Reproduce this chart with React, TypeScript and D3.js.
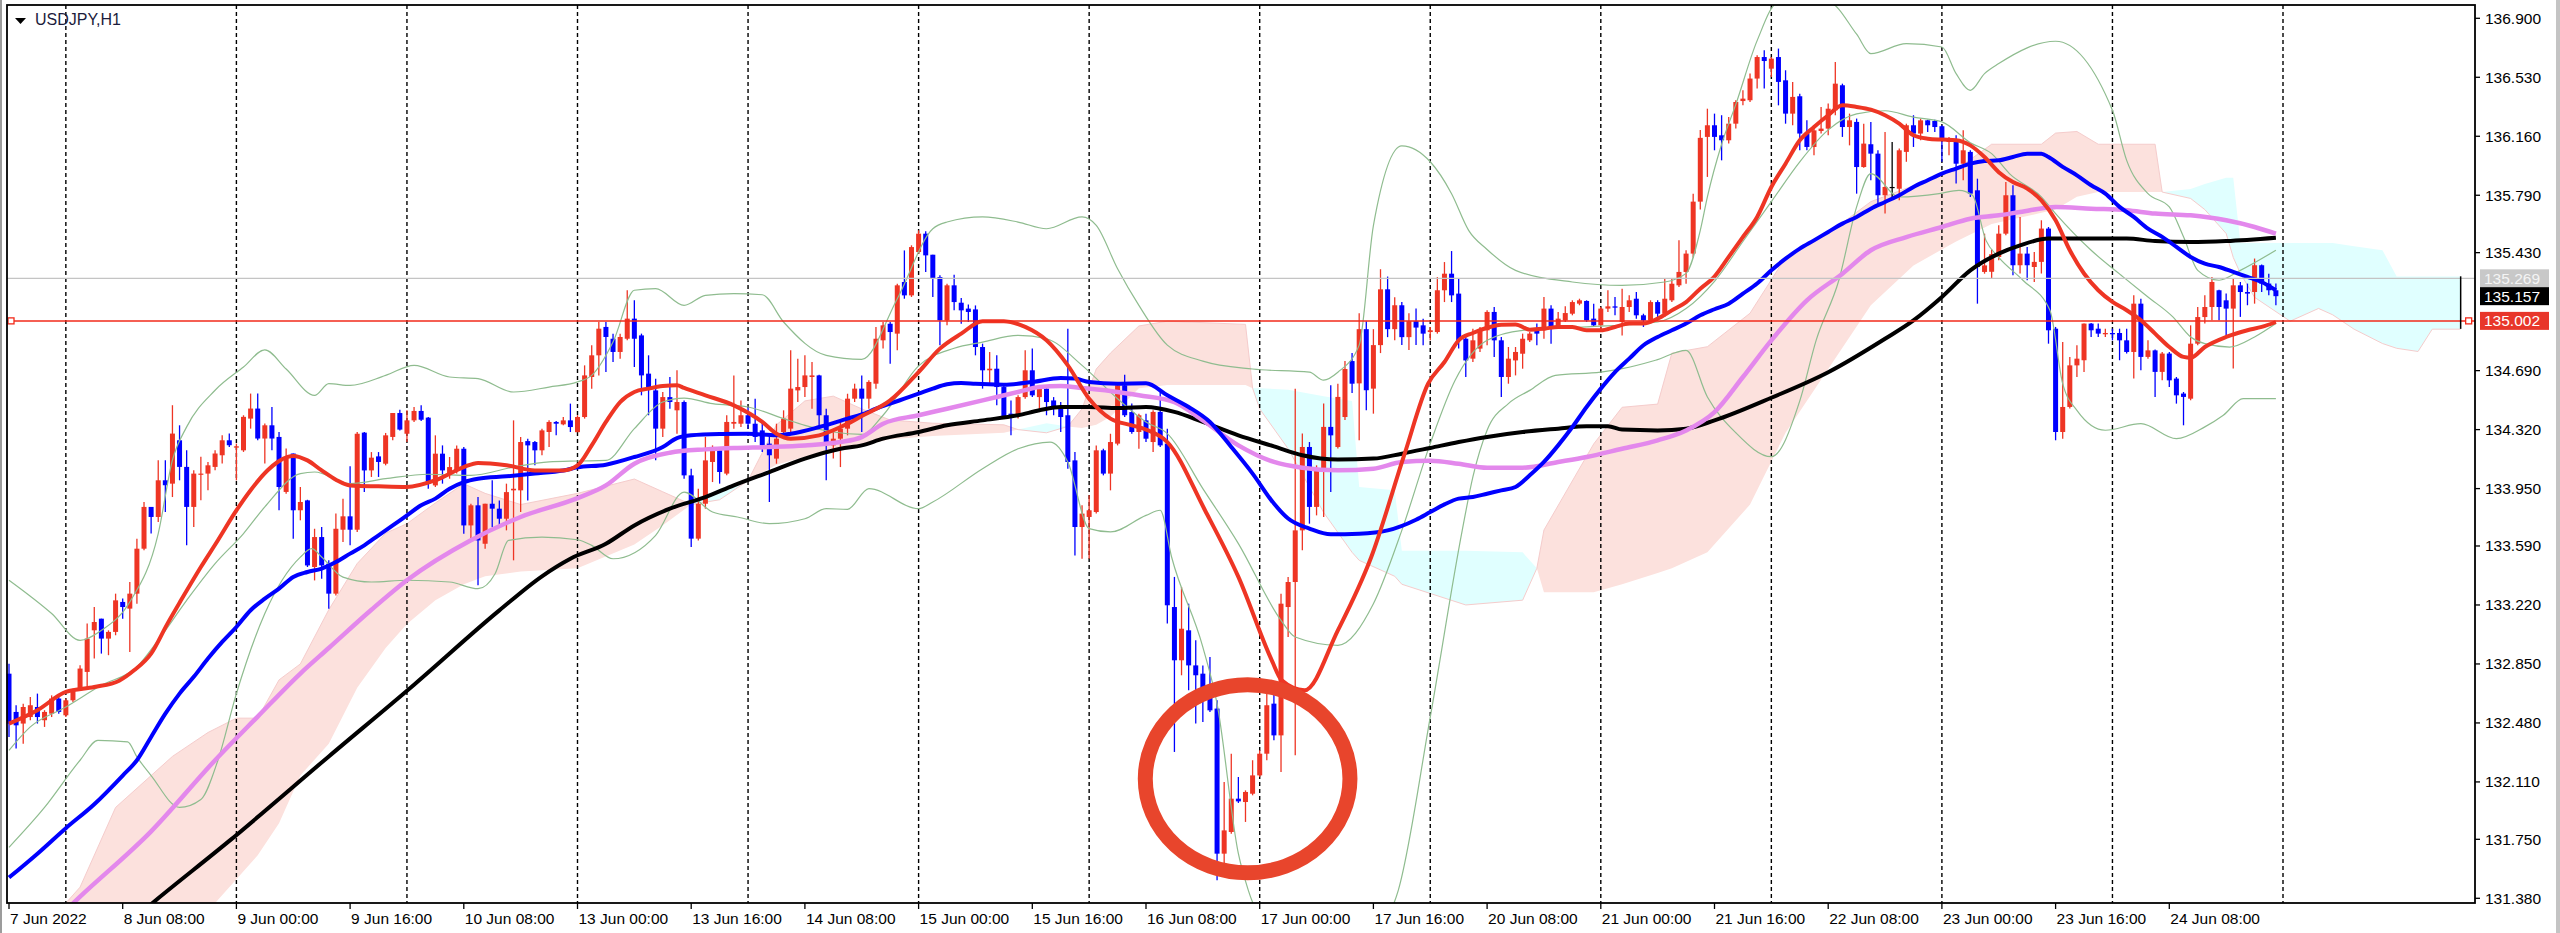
import * as React from 'react';
import * as d3 from 'd3';

// USDJPY H1, 7 Jun 16:00 .. 24 Jun 23:00 (320 bars)

const title = 'USDJPY,H1';

const priceTicks = [136.9, 136.53, 136.16, 135.79, 135.43, 134.69, 134.32, 133.95, 133.59, 133.22, 132.85, 132.48, 132.11, 131.75, 131.38];

const timeLabels = ['7 Jun 2022', '8 Jun 08:00', '9 Jun 00:00', '9 Jun 16:00', '10 Jun 08:00', '13 Jun 00:00', '13 Jun 16:00',
    '14 Jun 08:00', '15 Jun 00:00', '15 Jun 16:00', '16 Jun 08:00', '17 Jun 00:00', '17 Jun 16:00', '20 Jun 08:00',
    '21 Jun 00:00', '21 Jun 16:00', '22 Jun 08:00', '23 Jun 00:00', '23 Jun 16:00', '24 Jun 08:00'];
const barsPerLabel = 16;

// bar index of every 00:00 (period separators)
const dayStarts = [8, 32, 56, 80, 104, 128, 152, 176, 200, 224, 248, 272, 296, 320];

// [open, high, low, close]
const candles: number[][] = [
    // 7 Jun 16:00
    [132.789, 132.852, 132.392, 132.476], [132.549, 132.591, 132.319, 132.465], [132.476, 132.601, 132.350, 132.580], [132.517, 132.643, 132.497, 132.591],
    [132.580, 132.664, 132.476, 132.517], [132.497, 132.560, 132.455, 132.549], [132.538, 132.653, 132.517, 132.633], [132.633, 132.643, 132.538, 132.549],
    // 8 Jun
    [132.528, 132.633, 132.517, 132.622], [132.622, 132.695, 132.612, 132.685], [132.685, 132.842, 132.685, 132.821], [132.800, 133.103, 132.706, 133.009],
    [133.061, 133.207, 132.884, 133.113], [133.134, 133.134, 132.915, 133.009], [133.009, 133.061, 132.905, 133.051], [133.051, 133.291, 133.030, 133.249],
    [133.239, 133.260, 133.134, 133.207], [133.197, 133.364, 132.925, 133.291], [133.291, 133.636, 133.228, 133.573], [133.573, 133.866, 133.563, 133.835],
    [133.835, 133.835, 133.668, 133.772], [133.772, 134.128, 133.741, 134.002], [134.002, 134.128, 133.803, 133.971], [133.981, 134.473, 133.897, 134.295],
    [134.253, 134.347, 134.002, 134.086], [134.086, 134.190, 133.594, 133.835], [133.835, 134.065, 133.709, 134.044], [134.040, 134.149, 133.877, 134.044],
    [134.044, 134.117, 133.939, 134.096], [134.086, 134.190, 134.065, 134.170], [134.159, 134.284, 134.107, 134.253], [134.253, 134.295, 134.211, 134.222],
    // 9 Jun
    [134.207, 134.232, 134.002, 134.215], [134.190, 134.410, 134.180, 134.400], [134.389, 134.546, 134.326, 134.452], [134.452, 134.546, 134.253, 134.264],
    [134.264, 134.358, 134.107, 134.347], [134.347, 134.462, 134.190, 134.264], [134.274, 134.305, 133.814, 133.960], [133.929, 134.201, 133.918, 134.149],
    [134.170, 134.170, 133.636, 133.814], [133.814, 133.960, 133.751, 133.866], [133.876, 133.880, 133.458, 133.468], [133.458, 133.698, 133.374, 133.646],
    [133.646, 133.709, 133.385, 133.468], [133.479, 133.500, 133.197, 133.291], [133.291, 133.793, 133.280, 133.698], [133.692, 133.887, 133.615, 133.776],
    [133.776, 134.090, 133.594, 133.692], [133.692, 134.305, 133.678, 134.294], [134.301, 134.305, 133.928, 134.064], [134.064, 134.179, 134.023, 134.144],
    [134.152, 134.179, 134.023, 134.117], [134.106, 134.299, 134.096, 134.284], [134.274, 134.424, 134.253, 134.424], [134.424, 134.445, 134.315, 134.320],
    // 10 Jun
    [134.294, 134.441, 134.242, 134.378], [134.378, 134.462, 134.368, 134.437], [134.437, 134.472, 134.374, 134.382], [134.395, 134.399, 133.949, 133.981],
    [133.970, 134.284, 133.960, 134.169], [134.169, 134.221, 133.981, 134.064], [134.044, 134.148, 134.012, 134.085], [134.064, 134.221, 134.044, 134.200],
    [134.200, 134.211, 133.667, 133.719], [133.719, 133.855, 133.625, 133.845], [133.845, 133.897, 133.343, 133.625], [133.604, 133.855, 133.573, 133.855],
    [133.855, 134.002, 133.709, 133.824], [133.824, 133.876, 133.709, 133.761], [133.761, 133.981, 133.688, 133.928], [133.939, 134.378, 133.500, 133.949],
    [133.939, 134.274, 133.803, 134.242], [134.248, 134.263, 133.876, 134.221], [134.242, 134.248, 134.096, 134.190], [134.190, 134.326, 134.159, 134.315],
    [134.305, 134.378, 134.211, 134.368], [134.368, 134.374, 134.284, 134.357], [134.353, 134.399, 134.347, 134.378], [134.378, 134.483, 134.305, 134.336],
    // 13 Jun
    [134.304, 134.410, 134.304, 134.399], [134.399, 134.723, 134.389, 134.660], [134.650, 134.849, 134.577, 134.786], [134.786, 134.995, 134.660, 134.953],
    [134.964, 134.995, 134.681, 134.901], [134.890, 134.922, 134.744, 134.807], [134.807, 134.922, 134.765, 134.901], [134.890, 135.194, 134.880, 135.016],
    [135.016, 135.131, 134.713, 134.890], [134.911, 134.922, 134.535, 134.660], [134.671, 134.786, 134.410, 134.577], [134.566, 134.639, 134.127, 134.326],
    [134.326, 134.556, 134.274, 134.524], [134.524, 134.650, 134.451, 134.493], [134.441, 134.692, 134.294, 134.493], [134.493, 134.503, 134.012, 134.033],
    [134.033, 134.075, 133.584, 133.636], [133.636, 133.949, 133.625, 133.855], [133.855, 134.274, 133.824, 134.127], [134.117, 134.221, 133.991, 134.190],
    [134.190, 134.200, 133.981, 134.054], [134.044, 134.410, 134.033, 134.368], [134.357, 134.660, 134.326, 134.368], [134.357, 134.503, 134.336, 134.410],
    // 14 Jun
    [134.410, 134.462, 134.326, 134.357], [134.357, 134.514, 134.242, 134.274], [134.315, 134.368, 134.180, 134.221], [134.232, 134.284, 133.866, 134.159],
    [134.138, 134.357, 134.106, 134.263], [134.305, 134.441, 134.274, 134.389], [134.326, 134.817, 134.305, 134.577], [134.566, 134.765, 134.493, 134.587],
    [134.587, 134.786, 134.524, 134.660], [134.650, 134.744, 134.451, 134.660], [134.660, 134.664, 134.347, 134.410], [134.410, 134.451, 134.002, 134.242],
    [134.221, 134.305, 134.138, 134.263], [134.263, 134.368, 134.085, 134.326], [134.326, 134.545, 134.284, 134.514], [134.514, 134.608, 134.493, 134.577],
    [134.577, 134.660, 134.305, 134.514], [134.514, 134.629, 134.451, 134.619], [134.608, 134.964, 134.577, 134.890], [134.880, 134.995, 134.828, 134.974],
    [134.984, 134.995, 134.733, 134.932], [134.922, 135.235, 134.817, 135.225], [135.246, 135.444, 135.141, 135.162], [135.162, 135.476, 135.152, 135.465],
    // 15 Jun
    [135.434, 135.570, 135.424, 135.549], [135.549, 135.564, 135.309, 135.413], [135.417, 135.417, 135.152, 135.267], [135.277, 135.288, 134.849, 135.005],
    [135.005, 135.235, 134.974, 135.225], [135.225, 135.292, 135.068, 135.120], [135.116, 135.145, 134.984, 135.068], [135.079, 135.104, 134.995, 135.058],
    [135.074, 135.099, 134.786, 134.838], [134.838, 134.859, 134.577, 134.692], [134.692, 134.807, 134.598, 134.702], [134.702, 134.786, 134.472, 134.587],
    [134.587, 134.608, 134.389, 134.399], [134.420, 134.503, 134.284, 134.399], [134.410, 134.535, 134.389, 134.524], [134.524, 134.817, 134.514, 134.692],
    [134.692, 134.828, 134.524, 134.535], [134.524, 134.598, 134.430, 134.577], [134.577, 134.598, 134.410, 134.493], [134.503, 134.524, 134.410, 134.451],
    [134.462, 134.493, 134.305, 134.399], [134.410, 134.953, 134.075, 134.117], [134.127, 134.179, 133.531, 133.709], [133.709, 133.845, 133.510, 133.793],
    // 16 Jun
    [133.772, 133.908, 133.510, 133.814], [133.803, 134.221, 133.793, 134.190], [134.190, 134.200, 134.033, 134.044], [134.044, 134.294, 133.939, 134.242],
    [134.232, 134.608, 134.221, 134.598], [134.598, 134.664, 134.399, 134.410], [134.430, 134.483, 134.294, 134.305], [134.305, 134.420, 134.200, 134.410],
    [134.378, 134.420, 134.242, 134.263], [134.242, 134.441, 134.180, 134.431], [134.431, 134.567, 134.211, 134.221], [134.232, 134.326, 133.103, 133.218],
    [133.207, 133.396, 132.298, 132.873], [132.873, 133.333, 132.779, 133.071], [133.061, 133.228, 132.685, 132.841], [132.841, 132.998, 132.476, 132.779],
    [132.789, 132.841, 132.486, 132.622], [132.653, 132.894, 132.549, 132.559], [132.570, 132.622, 131.493, 131.660], [131.660, 132.110, 131.576, 131.806],
    [131.796, 132.287, 131.785, 132.005], [132.005, 132.141, 131.978, 131.988], [131.984, 132.057, 131.859, 132.047], [132.036, 132.246, 132.026, 132.151],
    // 17 Jun
    [132.151, 132.308, 132.141, 132.287], [132.287, 132.674, 132.246, 132.591], [132.601, 132.674, 132.371, 132.402], [132.402, 133.291, 132.172, 133.228],
    [133.207, 133.396, 133.019, 133.364], [133.364, 134.577, 132.277, 133.688], [133.688, 134.295, 133.563, 134.211], [134.211, 134.242, 133.730, 133.835],
    [133.835, 134.096, 133.782, 134.065], [134.065, 134.483, 133.772, 134.337], [134.337, 134.598, 133.929, 134.284], [134.211, 134.608, 134.201, 134.525],
    [134.399, 134.750, 134.380, 134.700], [134.750, 134.800, 134.550, 134.608], [134.610, 135.050, 134.253, 134.950], [134.950, 135.000, 134.441, 134.567],
    [134.577, 134.950, 134.420, 134.850], [134.850, 135.326, 134.800, 135.200], [135.200, 135.280, 134.900, 134.950], [134.950, 135.150, 134.880, 135.100],
    [135.100, 135.120, 134.850, 134.900], [134.900, 135.050, 134.820, 135.000], [135.000, 135.080, 134.850, 134.960], [134.974, 135.016, 134.849, 134.922],
    // 20 Jun
    [134.932, 134.964, 134.880, 134.943], [134.932, 135.277, 134.922, 135.194], [135.194, 135.371, 135.120, 135.298], [135.298, 135.440, 135.120, 135.162],
    [135.173, 135.267, 134.828, 134.880], [134.890, 134.901, 134.650, 134.754], [134.765, 134.953, 134.744, 134.880], [134.828, 134.964, 134.807, 134.943],
    [134.943, 135.068, 134.849, 135.058], [135.058, 135.089, 134.775, 134.880], [134.880, 134.901, 134.525, 134.650], [134.650, 134.838, 134.608, 134.765],
    [134.754, 134.838, 134.660, 134.807], [134.796, 134.922, 134.702, 134.890], [134.880, 134.932, 134.870, 134.922], [134.943, 134.985, 134.849, 134.922],
    [134.943, 135.152, 134.890, 135.079], [135.079, 135.100, 134.859, 134.953], [134.964, 135.058, 134.953, 135.016], [135.005, 135.093, 134.995, 135.051],
    [135.047, 135.131, 135.037, 135.120], [135.110, 135.141, 135.100, 135.131], [135.127, 135.131, 134.995, 135.005], [135.016, 135.110, 134.964, 134.974],
    // 21 Jun
    [134.974, 135.089, 134.932, 135.079], [135.079, 135.194, 135.058, 135.093], [135.093, 135.152, 135.037, 135.085], [134.995, 135.204, 134.911, 135.089],
    [135.089, 135.162, 135.058, 135.131], [135.141, 135.183, 135.016, 135.037], [135.037, 135.047, 134.964, 135.005], [135.005, 135.131, 134.985, 135.120],
    [135.120, 135.131, 135.026, 135.047], [135.047, 135.267, 135.026, 135.141], [135.131, 135.267, 135.120, 135.235], [135.225, 135.507, 135.215, 135.309],
    [135.309, 135.445, 135.235, 135.424], [135.424, 135.800, 135.400, 135.750], [135.750, 136.200, 135.700, 136.150], [136.156, 136.333, 135.905, 136.229],
    [136.229, 136.302, 136.072, 136.156], [136.166, 136.292, 136.009, 136.135], [136.135, 136.281, 136.114, 136.239], [136.239, 136.386, 136.208, 136.375],
    [136.381, 136.448, 136.354, 136.396], [136.386, 136.553, 136.375, 136.522], [136.522, 136.668, 136.459, 136.657], [136.657, 136.699, 136.459, 136.632],
    // 22 Jun
    [136.584, 136.657, 136.532, 136.647], [136.657, 136.710, 136.354, 136.501], [136.511, 136.574, 136.239, 136.302], [136.302, 136.501, 136.229, 136.407],
    [136.411, 136.427, 136.072, 136.177], [136.177, 136.260, 136.072, 136.093], [136.093, 136.218, 136.041, 136.197], [136.193, 136.344, 136.177, 136.208],
    [136.208, 136.365, 136.166, 136.333], [136.323, 136.626, 136.292, 136.490], [136.480, 136.490, 136.156, 136.218], [136.218, 136.302, 136.103, 136.260],
    [136.250, 136.271, 135.800, 135.967], [135.967, 136.239, 135.963, 136.114], [136.110, 136.250, 135.884, 136.051], [136.051, 136.072, 135.727, 135.790],
    [135.790, 136.187, 135.675, 135.842], [135.842, 136.124, 135.769, 135.842], [135.831, 136.083, 135.758, 136.072], [136.062, 136.239, 136.000, 136.229],
    [136.229, 136.292, 136.093, 136.177], [136.177, 136.271, 136.135, 136.260], [136.260, 136.264, 136.187, 136.229], [136.256, 136.264, 136.187, 136.218],
    // 23 Jun
    [136.223, 136.229, 136.000, 136.135], [136.124, 136.156, 136.041, 136.135], [136.135, 136.166, 135.863, 135.988], [135.988, 136.197, 135.884, 136.072],
    [136.062, 136.072, 135.779, 135.800], [135.821, 135.894, 135.110, 135.340], [135.309, 135.549, 135.298, 135.350], [135.310, 135.450, 135.270, 135.420],
    [135.403, 135.602, 135.382, 135.549], [135.549, 135.873, 135.539, 135.790], [135.790, 135.853, 135.288, 135.351], [135.351, 135.654, 135.299, 135.424],
    [135.424, 135.466, 135.257, 135.351], [135.340, 135.434, 135.246, 135.372], [135.372, 135.633, 135.299, 135.581], [135.581, 135.591, 134.859, 134.943],
    [134.953, 134.964, 134.253, 134.305], [134.305, 134.870, 134.263, 134.462], [134.462, 134.776, 134.452, 134.723], [134.723, 134.849, 134.650, 134.765],
    [134.755, 134.985, 134.682, 134.985], [134.985, 134.989, 134.901, 134.943], [134.953, 134.985, 134.901, 134.922], [134.918, 134.953, 134.901, 134.926],
    // 24 Jun
    [134.926, 134.953, 134.880, 134.918], [134.926, 134.953, 134.755, 134.880], [134.880, 134.953, 134.797, 134.807], [134.807, 135.162, 134.640, 135.110],
    [135.110, 135.141, 134.692, 134.776], [134.776, 134.880, 134.765, 134.817], [134.817, 134.822, 134.525, 134.682], [134.682, 134.807, 134.629, 134.797],
    [134.797, 134.807, 134.587, 134.629], [134.640, 134.650, 134.483, 134.535], [134.546, 134.556, 134.347, 134.525], [134.514, 134.974, 134.504, 134.859],
    [134.859, 135.089, 134.849, 135.026], [135.026, 135.162, 134.985, 135.089], [135.089, 135.278, 135.006, 135.246], [135.194, 135.198, 135.006, 135.089],
    [135.131, 135.173, 134.912, 135.079], [135.079, 135.267, 134.703, 135.225], [135.225, 135.246, 135.027, 135.183], [135.183, 135.236, 135.100, 135.173],
    [135.183, 135.393, 135.110, 135.351], [135.351, 135.355, 135.183, 135.236], [135.236, 135.298, 135.162, 135.194], [135.194, 135.236, 135.100, 135.157],
];

// moving averages, [bar, price]
const maRed = [[0, 132.476], [4, 132.56], [8, 132.675], [12, 132.705], [15.5, 132.745], [17.6, 132.81], [20, 132.915], [22.3, 133.103], [24.2, 133.249],
    [27, 133.458], [29.4, 133.626], [31.7, 133.793], [34, 133.94], [36.4, 134.065], [37.8, 134.117], [39.2, 134.149], [40, 134.155], [42, 134.127],
    [44, 134.064], [46, 134.006], [48, 133.97], [52, 133.964], [56, 133.96], [60, 134.002], [64, 134.085], [66, 134.111], [70, 134.096], [74, 134.064],
    [78, 134.064], [80, 134.095], [82, 134.221], [84, 134.368], [86, 134.493], [88, 134.556], [90, 134.577], [92, 134.593], [94, 134.598], [95, 134.581],
    [98, 134.535], [102, 134.472], [106, 134.368], [108, 134.294], [110, 134.263], [114, 134.284], [118, 134.357], [120, 134.405], [124, 134.503],
    [128, 134.681], [131, 134.828], [134, 134.922], [137, 135.0], [140, 135.0], [143, 134.964], [146, 134.88], [149, 134.723], [152, 134.514],
    [155, 134.389], [158, 134.347], [160, 134.32], [163, 134.242], [168.3, 133.814], [173, 133.396], [177.7, 132.873], [179.1, 132.747], [182.3, 132.685],
    [187, 133.061], [191.7, 133.521], [196.4, 134.169], [199.7, 134.608], [202, 134.744], [204, 134.88], [206, 134.926], [208, 134.959], [210, 134.978],
    [212, 134.98], [214, 134.947], [216, 134.953], [218, 134.964], [220, 134.964], [222, 134.943], [224, 134.943], [226, 134.964], [228, 134.985],
    [230, 134.985], [232, 135.016], [234, 135.068], [236, 135.12], [238, 135.204], [240, 135.28], [242, 135.403], [244, 135.528], [246, 135.654],
    [248, 135.842], [250, 135.988], [252, 136.135], [254, 136.218], [256, 136.292], [258, 136.354], [260, 136.344], [262, 136.327], [264, 136.292],
    [266, 136.239], [268, 136.166], [270, 136.145], [272, 136.139], [274, 136.135], [276, 136.103], [278, 136.03], [280, 135.935], [282, 135.873],
    [284, 135.832], [286, 135.758], [288, 135.633], [290, 135.445], [292, 135.299], [294, 135.194], [296, 135.121], [298, 135.069], [300, 135.006],
    [302, 134.922], [304, 134.838], [306, 134.776], [307, 134.771], [309, 134.838], [312, 134.901], [315, 134.943], [317, 134.964], [319, 134.995]];

const maBlue = [[0, 131.51], [4, 131.66], [8, 131.82], [12, 131.97], [16, 132.15], [18, 132.246], [20, 132.392], [22, 132.538], [24, 132.664],
    [26, 132.769], [28, 132.884], [30, 132.988], [32, 133.082], [34, 133.187], [36, 133.26], [38, 133.323], [40, 133.396], [42, 133.427], [44, 133.448],
    [46, 133.489], [48, 133.542], [50, 133.594], [52, 133.657], [54, 133.719], [56, 133.782], [58, 133.845], [60, 133.887], [62, 133.949], [64, 133.991],
    [66, 134.012], [70, 134.027], [74, 134.044], [78, 134.064], [80, 134.083], [84, 134.1], [88, 134.148], [92, 134.211], [94, 134.267], [96, 134.284],
    [100, 134.292], [104, 134.294], [108, 134.284], [110, 134.294], [114, 134.336], [118, 134.389], [120, 134.415], [122, 134.451], [124, 134.483],
    [126, 134.514], [128, 134.545], [130, 134.577], [132, 134.604], [134, 134.612], [136, 134.608], [140, 134.602], [144, 134.619], [148, 134.644],
    [150, 134.64], [152, 134.619], [156, 134.608], [160, 134.61], [163, 134.535], [166, 134.462], [169, 134.368], [172, 134.211], [175, 134.044],
    [178, 133.856], [180, 133.762], [183, 133.699], [186, 133.663], [190, 133.667], [194, 133.688], [198, 133.755], [200, 133.803], [202, 133.851],
    [204, 133.887], [206, 133.897], [208, 133.918], [210, 133.939], [212, 133.96], [214, 134.033], [216, 134.117], [218, 134.221], [220, 134.336],
    [222, 134.462], [224, 134.577], [226, 134.681], [228, 134.765], [230, 134.849], [232, 134.901], [234, 134.943], [236, 134.985], [238, 135.037],
    [240, 135.075], [242, 135.11], [244, 135.173], [246, 135.236], [248, 135.319], [250, 135.392], [252, 135.455], [254, 135.507], [256, 135.56],
    [258, 135.612], [260, 135.654], [262, 135.706], [264, 135.748], [266, 135.79], [268, 135.842], [270, 135.884], [272, 135.926], [274, 135.957],
    [276, 135.988], [278, 136.005], [280, 136.009], [282, 136.03], [284, 136.051], [286, 136.051], [287, 136.03], [289, 135.968], [291, 135.915],
    [293, 135.853], [295, 135.8], [297, 135.717], [299, 135.654], [301, 135.581], [303, 135.529], [305, 135.466], [307, 135.403], [309, 135.361],
    [311, 135.34], [313, 135.309], [315, 135.278], [317, 135.246], [319, 135.194]];

const maViolet = [[6, 131.22], [10, 131.39], [20, 131.8], [29, 132.246], [35, 132.52], [41, 132.79], [45, 132.95], [51, 133.19], [56, 133.375],
    [65, 133.626], [72, 133.772], [80, 133.89], [84, 133.97], [88, 134.106], [93, 134.175], [98, 134.196], [102, 134.205], [107, 134.211], [112, 134.221],
    [117, 134.242], [120, 134.273], [123, 134.357], [128, 134.41], [132, 134.451], [137, 134.503], [142, 134.556], [145, 134.587], [148, 134.594],
    [151, 134.581], [156, 134.556], [159, 134.535], [164, 134.493], [168, 134.378], [173, 134.221], [178, 134.117], [182, 134.081], [187, 134.065],
    [192, 134.075], [196, 134.117], [200, 134.125], [204, 134.106], [208, 134.081], [213, 134.081], [218, 134.117], [222, 134.148], [227, 134.2],
    [232, 134.253], [236, 134.315], [240, 134.43], [244, 134.65], [248, 134.88], [253, 135.131], [258, 135.298], [262, 135.445], [267, 135.528],
    [272, 135.591], [276, 135.643], [280, 135.664], [283, 135.685], [288, 135.717], [293, 135.706], [298, 135.696], [302, 135.675], [307, 135.664],
    [312, 135.633], [316, 135.591], [319, 135.549]];

const maBlack = [[14, 131.12], [21, 131.38], [31, 131.74], [45, 132.27], [57, 132.72], [69, 133.186], [75, 133.4], [79, 133.51], [84, 133.604],
    [88, 133.719], [93, 133.824], [98, 133.897], [102, 133.97], [107, 134.054], [112, 134.138], [117, 134.2], [120, 134.221], [123, 134.263],
    [128, 134.305], [132, 134.347], [137, 134.378], [142, 134.41], [145, 134.441], [148, 134.462], [152, 134.462], [156, 134.455], [160, 134.462],
    [164, 134.431], [168, 134.368], [173, 134.284], [178, 134.215], [182, 134.159], [187, 134.132], [192, 134.138], [196, 134.169], [200, 134.205],
    [204, 134.242], [208, 134.274], [213, 134.305], [218, 134.326], [222, 134.341], [225, 134.341], [227, 134.32], [232, 134.315], [236, 134.326],
    [240, 134.378], [248, 134.52], [256, 134.68], [264, 134.89], [268, 135.005], [272, 135.152], [276, 135.319], [280, 135.424], [283, 135.476],
    [287, 135.518], [293, 135.518], [298, 135.518], [302, 135.503], [307, 135.497], [312, 135.503], [319, 135.524]];

// Bollinger bands
const bbUpper = [[0, 133.375], [6, 133.166], [10, 132.998], [13, 133.061], [17, 133.239], [21, 133.668], [23, 134.128], [25, 134.337], [29, 134.567],
    [33, 134.713], [36, 134.82], [39, 134.7], [43, 134.535], [45, 134.608], [48, 134.597], [53, 134.66], [57, 134.723], [62, 134.65], [66, 134.64],
    [71, 134.556], [76, 134.587], [80, 134.619], [82, 134.66], [85, 134.869], [88, 135.194], [91, 135.204], [95, 135.099], [98, 135.162], [102, 135.173],
    [106, 135.166], [109, 134.995], [115, 134.786], [120, 134.761], [125, 135.141], [130, 135.58], [132, 135.622], [137, 135.654], [142, 135.622],
    [146, 135.58], [151, 135.654], [153, 135.601], [156, 135.329], [159, 135.099], [163, 134.85], [168, 134.75], [175, 134.7], [183, 134.68],
    [185, 134.63], [187, 134.68], [190, 134.85], [192, 135.6], [196, 136.1], [200, 136.0], [203, 135.8], [205.4, 135.57], [208, 135.45], [212, 135.319],
    [220, 135.246], [227, 135.225], [233, 135.246], [236, 135.3], [238, 135.57], [239, 135.78], [241, 136.11], [243, 136.36], [246, 136.76],
    [249, 137.0], [256, 137.0], [260, 136.8], [262, 136.678], [267, 136.741], [272, 136.72], [274, 136.553], [276, 136.448], [278, 136.553],
    [280, 136.616], [288, 136.756], [296, 136.323], [298, 136.009], [301, 135.8], [304, 135.717], [306, 135.529], [308, 135.319], [311, 135.257],
    [314, 135.319], [319, 135.445]];

const bbMiddle = [[0, 132.308], [3, 132.455], [8, 132.58], [13, 132.716], [18, 132.831], [21, 132.999], [25, 133.249], [29, 133.479], [33, 133.668],
    [36, 133.835], [41, 134.044], [43, 134.054], [48, 133.981], [53, 134.012], [59, 134.04], [65, 134.033], [71, 134.085], [76, 134.117], [80, 134.123],
    [84, 134.127], [88, 134.326], [92, 134.493], [95, 134.518], [99, 134.483], [104, 134.462], [109, 134.389], [112, 134.347], [116, 134.305],
    [120, 134.29], [123, 134.41], [128, 134.72], [133, 134.83], [137, 134.869], [142, 134.911], [146, 134.89], [151, 134.723], [156, 134.514],
    [160, 134.368], [163, 134.295], [168, 133.95], [173, 133.605], [179, 133.124], [181, 133.019], [187, 132.967], [192, 133.228], [196, 133.688],
    [200, 134.232], [203.5, 134.629], [208, 134.88], [213, 134.943], [222, 134.964], [232, 134.995], [236, 135.079], [240, 135.25], [244, 135.5],
    [248, 135.75], [252, 136.0], [256, 136.2], [260, 136.3], [264, 136.32], [268, 136.28], [272, 136.25], [276, 136.12], [279, 136.051],
    [281.5, 135.926], [286, 135.78], [288, 135.675], [293, 135.445], [297.5, 135.278], [301, 135.152], [304.5, 135.027], [307, 134.901],
    [309, 134.859], [312.5, 134.838], [316, 134.901], [319, 134.985]];

const bbLower = [[0, 131.7], [5, 131.95], [10, 132.246], [12.5, 132.371], [16.7, 132.361], [18, 132.267], [20, 132.15], [24, 131.95], [27, 132.0],
    [29.4, 132.246], [32, 132.664], [36, 133.166], [41, 133.52], [42.6, 133.573], [44, 133.521], [47, 133.395], [51, 133.364], [56, 133.375],
    [62, 133.364], [66, 133.322], [68.4, 133.416], [70.3, 133.625], [75, 133.646], [80, 133.629], [82, 133.594], [85, 133.51], [91, 133.657],
    [95, 133.928], [99, 133.803], [102.5, 133.772], [107, 133.73], [112, 133.761], [115, 133.824], [118, 133.82], [121, 133.95], [128, 133.824],
    [130, 133.866], [137, 134.075], [142, 134.2], [146.5, 134.242], [149, 134.117], [152, 133.699], [155, 133.678], [160, 133.782], [162, 133.814],
    [163.6, 133.521], [168, 132.956], [170, 132.601], [173, 131.66], [174.4, 131.43], [178, 131.15], [186, 131.0], [192, 131.15], [195.5, 131.43],
    [200, 132.517], [204.5, 133.688], [206, 134.023], [208, 134.316], [211, 134.483], [214, 134.566], [217.6, 134.66], [224, 134.681], [227, 134.702],
    [231.7, 134.755], [236, 134.817], [239, 134.525], [243, 134.3], [248, 134.15], [252, 134.5], [254.3, 134.88], [257.5, 135.257], [260, 135.717],
    [262, 135.926], [266, 135.779], [271.6, 135.8], [274.4, 135.821], [276.3, 135.79], [278.2, 135.507], [280, 135.4], [283.4, 135.257],
    [287.2, 135.068], [289, 134.608], [291, 134.441], [295, 134.316], [300, 134.357], [305, 134.263], [309, 134.337], [311.6, 134.41],
    [314.4, 134.514], [319, 134.514]];

// Ichimoku kumo: [bar, senkou A, senkou B], shifted 26 bars ahead
const kumo = [[0, 130.95, 130.6], [5, 131.2, 130.7], [10, 131.45, 130.8], [15, 131.95, 130.9], [20, 132.15, 131.0], [23, 132.27, 131.1],
    [28, 132.42, 131.3], [32, 132.51, 131.5], [35, 132.51, 131.65], [38, 132.75, 131.85], [41, 132.85, 132.15], [45, 133.19, 132.35],
    [49, 133.48, 132.7], [53, 133.67, 132.95], [56, 133.73, 133.1], [60, 133.86, 133.25], [64, 133.98, 133.35], [67, 133.92, 133.4],
    [72, 133.85, 133.43], [80, 133.92, 133.45], [88, 134.01, 133.6], [92, 133.93, 133.72], [96, 133.85, 133.85], [100, 133.88, 133.95],
    [104, 134.0, 134.0], [108, 134.35, 134.1], [112, 134.5, 134.15], [116, 134.53, 134.18], [120, 134.45, 134.22], [124, 134.38, 134.26],
    [130, 134.36, 134.28], [140, 134.35, 134.3], [142, 134.32, 134.32], [146, 134.3, 134.36], [149, 134.34, 134.34], [151, 134.45, 134.33],
    [153, 134.7, 134.35], [155, 134.8, 134.4], [159, 134.97, 134.58], [163, 135.0, 134.6], [174, 134.98, 134.6], [175, 134.58, 134.58],
    [176, 134.45, 134.58], [180, 134.2, 134.57], [185, 133.8, 134.53], [189, 133.55, 134.5], [190, 133.5, 133.96], [195, 133.4, 133.94],
    [196, 133.35, 133.56], [205, 133.22, 133.56], [213, 133.25, 133.55], [215, 133.45, 133.45], [216, 133.69, 133.3], [223, 134.23, 133.3],
    [227, 134.46, 133.35], [232, 134.48, 133.42], [234, 134.8, 133.45], [239, 134.84, 133.55], [245, 135.05, 133.85], [250, 135.4, 134.3],
    [256, 135.55, 134.7], [262, 135.75, 135.1], [268, 135.85, 135.35], [274, 135.95, 135.5], [279, 136.11, 135.61], [286, 136.11, 135.68],
    [288, 136.18, 135.7], [291, 136.19, 135.78], [294, 136.11, 135.81], [302, 136.11, 135.81], [303, 135.81, 135.81], [307, 135.77, 135.83],
    [309, 135.7, 135.86], [312, 135.55, 135.9], [313, 135.4, 135.9], [314, 135.3, 135.49], [316, 135.15, 135.49], [321, 135.0, 135.49],
    [325, 135.08, 135.49], [327, 135.04, 135.49], [330, 134.95, 135.47], [334, 134.86, 135.445], [336, 134.83, 135.28], [339, 134.81, 135.28],
    [341, 134.95, 135.28], [345, 134.95, 135.28]];

const askPrice = 135.269;
const bidPrice = 135.157;
const levelPrice = 135.002;
const kumoEndBar = 345;

// hand drawn circle round the 16-17 Jun low: centre bar/price and half sizes
const circleMark = { bar: 174.3, price: 132.13, halfBars: 14.4, halfPrice: 0.59 };

const plot = { left: 7, top: 5, right: 2475, bottom: 903 };
const font = '"Liberation Sans", Arial, sans-serif';
const bull = '#ee3524';
const bear = '#0000ff';

function kumoRuns(rows) {
    // split the cloud into runs where one span stays on top; crossings belong to both runs
    const runs = [];
    let cur = null;
    rows.forEach(r => {
        const s = r[1] > r[2] ? 1 : r[1] < r[2] ? -1 : 0;
        if (s === 0) {
            if (cur) {
                cur.pts.push(r);
                runs.push(cur);
            }
            cur = { sign: 0, pts: [r] };
            return;
        }
        if (!cur) cur = { sign: s, pts: [r] };
        else if (cur.sign === 0 || cur.sign === s) {
            cur.sign = s;
            cur.pts.push(r);
        } else {
            runs.push(cur);
            cur = { sign: s, pts: [cur.pts[cur.pts.length - 1], r] };
        }
    });
    if (cur) runs.push(cur);
    return runs.filter(r => r.sign !== 0 && r.pts.length > 1);
}

export default function App() {
    const x = d3.scaleLinear().domain([0, 320]).range([9, 2283]);
    const y = d3.scaleLinear().domain([131.38, 136.9]).range([898.3, 18.3]);
    const fmt = d3.format('.3f');

    const line = d3.line<number[]>()
        .x(d => x(d[0]))
        .y(d => y(d[1]))
        .curve(d3.curveMonotoneX);

    const cloud = d3.area<number[]>()
        .x(d => x(d[0]))
        .y0(d => y(Math.min(d[1], d[2])))
        .y1(d => y(Math.max(d[1], d[2])));

    const spanA = d3.line<number[]>().x(d => x(d[0])).y(d => y(d[1]));

    const bodyW = 5;

    const labelBox = (price, fill, color) => {
        const cy = y(price);
        return (
            <g key={'lb' + price}>
                <rect x={2480} y={cy - 9} width={69} height={18} fill={fill} />
                <text x={2484} y={cy + 5.5} fontFamily={font} fontSize={15.5} fill={color}>{fmt(price)}</text>
            </g>
        );
    };

    return (
        <svg width={2560} height={933} style={{ position: 'absolute', left: 0, top: 0, background: '#fff' }}>
            <defs>
                <clipPath id="plotClip">
                    <rect x={plot.left} y={plot.top} width={plot.right - plot.left} height={plot.bottom - plot.top} />
                </clipPath>
            </defs>
            <rect x={0} y={0} width={2560} height={933} fill="#fff" />
            <rect x={0} y={0} width={2} height={933} fill="#9c9c9c" />
            <rect x={2556} y={0} width={4} height={933} fill="#c4c4c4" />

            <g clipPath="url(#plotClip)">
                {/* ichimoku cloud */}
                {kumoRuns(kumo).map((r, k) => (
                    <path key={'k' + k} d={cloud(r.pts)} fill={r.sign > 0 ? '#fce1dd' : '#e0ffff'} />
                ))}
                <path d={spanA(kumo)} fill="none" stroke="#f5cccc" strokeWidth={1} />

                {/* day separators */}
                {dayStarts.map(i => (
                    <line key={'g' + i} x1={x(i)} x2={x(i)} y1={plot.top} y2={plot.bottom}
                        stroke="#000" strokeWidth={1.4} strokeDasharray="4,3" />
                ))}

                {/* candles */}
                {candles.map((c, i) => {
                    const [o, h, l, cl] = c;
                    const color = cl > o ? bull : cl < o ? bear : '#000';
                    const top = y(Math.max(o, cl));
                    const hgt = Math.max(1.2, Math.abs(y(o) - y(cl)));
                    return (
                        <g key={'c' + i}>
                            <line x1={x(i)} x2={x(i)} y1={y(Math.max(h, o, cl))} y2={y(Math.min(l, o, cl))} stroke={color} strokeWidth={1.3} />
                            <rect x={x(i) - bodyW / 2} y={top} width={bodyW} height={hgt} fill={color} />
                        </g>
                    );
                })}

                {/* bollinger bands */}
                {[bbUpper, bbMiddle, bbLower].map((b, k) => (
                    <path key={'bb' + k} d={line(b)} fill="none" stroke="#8fbc8f" strokeWidth={1.2} />
                ))}

                {/* moving averages */}
                <path d={line(maBlack)} fill="none" stroke="#000" strokeWidth={4} />
                <path d={line(maViolet)} fill="none" stroke="#e388ec" strokeWidth={4.5} />
                <path d={line(maBlue)} fill="none" stroke={bear} strokeWidth={4} />
                <path d={line(maRed)} fill="none" stroke={bull} strokeWidth={4} />

                {/* ask line and horizontal level */}
                <line x1={plot.left} x2={plot.right} y1={y(askPrice)} y2={y(askPrice)} stroke="#c4c4c4" strokeWidth={1.3} />
                <line x1={plot.left} x2={plot.right} y1={y(levelPrice)} y2={y(levelPrice)} stroke="#f22a1a" strokeWidth={1.5} />
                <rect x={plot.left + 1} y={y(levelPrice) - 3} width={6} height={6} fill="#fff" stroke="#f22a1a" strokeWidth={1.3} />
                <rect x={x(kumoEndBar) + 5} y={y(levelPrice) - 3} width={6} height={6} fill="#fff" stroke="#f22a1a" strokeWidth={1.3} />
                <line x1={x(kumoEndBar)} x2={x(kumoEndBar)} y1={y(askPrice) - 2} y2={y(levelPrice) + 8} stroke="#000" strokeWidth={1.5} />

                {/* circle annotation */}
                <ellipse
                    cx={x(circleMark.bar)} cy={y(circleMark.price)}
                    rx={x(circleMark.bar + circleMark.halfBars) - x(circleMark.bar)}
                    ry={y(circleMark.price - circleMark.halfPrice) - y(circleMark.price)}
                    fill="none" stroke="#e8452c" strokeWidth={15} />
            </g>

            {/* frame */}
            <rect x={plot.left} y={plot.top} width={plot.right - plot.left} height={plot.bottom - plot.top}
                fill="none" stroke="#000" strokeWidth={1.8} />

            {/* price axis */}
            {priceTicks.map(p => (
                <g key={'p' + p}>
                    <line x1={plot.right} x2={plot.right + 5} y1={y(p)} y2={y(p)} stroke="#000" strokeWidth={1.3} />
                    <text x={2485} y={y(p) + 5.5} fontFamily={font} fontSize={15.5} fill="#000">{fmt(p)}</text>
                </g>
            ))}
            {labelBox(askPrice, '#c8c8c8', '#f4f4f4')}
            {labelBox(bidPrice, '#000', '#fff')}
            {labelBox(levelPrice, '#e8362a', '#fff')}

            {/* time axis */}
            {timeLabels.map((t, k) => {
                const xi = x(k * barsPerLabel);
                return (
                    <g key={'t' + k}>
                        <line x1={xi} x2={xi} y1={plot.bottom} y2={plot.bottom + 6} stroke="#000" strokeWidth={1.3} />
                        <text x={xi + 1} y={924} fontFamily={font} fontSize={15.5} fill="#000">{t}</text>
                    </g>
                );
            })}

            {/* title */}
            <path d="M15,18 L26,18 L20.5,24 Z" fill="#000" />
            <text x={35} y={25} fontFamily={font} fontSize={16} fill="#1c1c3c">{title}</text>
        </svg>
    );
}
